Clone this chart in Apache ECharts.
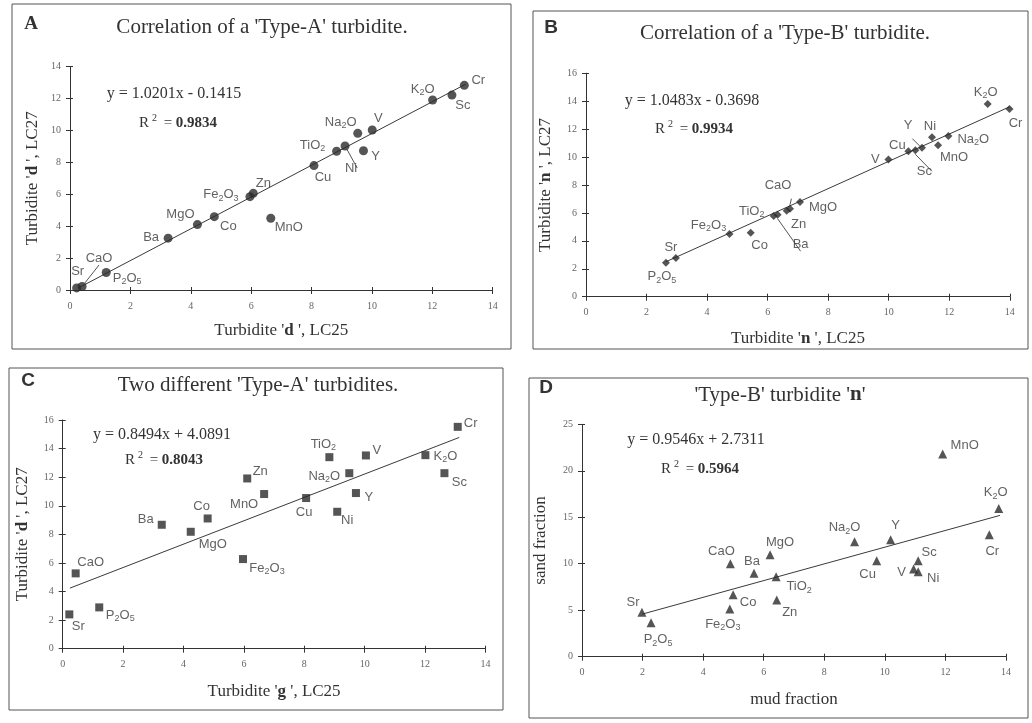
<!DOCTYPE html>
<html>
<head>
<meta charset="utf-8">
<script src="https://cdn.jsdelivr.net/npm/echarts@6/dist/echarts.min.js"></script>
<style>
html, body { margin: 0; padding: 0; background: #fff; }
#chart { width: 1032px; height: 723px; }
</style>
</head>
<body>
<div id="chart"></div>
<script>
// element order shared by all four panels
const elements = ["Sr", "CaO", "P2O5", "Ba", "MgO", "Co", "Fe2O3", "Zn", "MnO", "Cu", "TiO2", "Ni", "Na2O", "V", "Y", "K2O", "Sc", "Cr"];

// A: turbidite 'd', LC25 vs LC27
const xA = [0.22, 0.4, 1.2, 3.25, 4.22, 4.78, 5.96, 6.07, 6.65, 8.08, 8.83, 9.11, 9.53, 10.01, 9.72, 12.01, 12.65, 13.06];
const yA = [0.13, 0.22, 1.1, 3.25, 4.1, 4.6, 5.85, 6.06, 4.5, 7.8, 8.7, 9.03, 9.82, 10.03, 8.73, 11.91, 12.22, 12.83];
const trendXA = [0.3, 13.1];
const trendYA = [0.15, 12.9];

// B: turbidite 'n', LC25 vs LC27
const xB = [2.97, 6.74, 2.64, 6.33, 7.07, 5.44, 4.74, 6.63, 11.63, 10.65, 6.2, 11.43, 11.97, 9.99, 11.1, 13.27, 10.88, 13.99];
const yB = [2.77, 6.3, 2.43, 5.87, 6.78, 4.58, 4.49, 6.16, 10.84, 10.41, 5.78, 11.41, 11.5, 9.83, 10.67, 13.8, 10.48, 13.44];
const trendXB = [2.64, 14];
const trendYB = [2.5, 13.6];

// C: turbidite 'g' LC25 vs turbidite 'd' LC27
const xC = [0.22, 0.43, 1.21, 3.28, 4.24, 4.8, 5.97, 6.11, 6.67, 8.06, 8.83, 9.09, 9.49, 10.04, 9.71, 12.01, 12.64, 13.08];
const yC = [2.4, 5.27, 2.89, 8.67, 8.18, 9.11, 6.27, 11.91, 10.82, 10.54, 13.4, 9.58, 12.28, 13.52, 10.89, 13.54, 12.28, 15.52];
const trendXC = [0.24, 13.13];
const trendYC = [4.24, 14.78];

// D: turbidite 'n', mud vs sand fraction
const xD = [1.98, 4.9, 2.28, 5.68, 6.21, 4.99, 4.88, 6.43, 11.91, 9.73, 6.41, 11.1, 9.0, 10.95, 10.19, 13.76, 11.1, 13.45];
const yD = [4.77, 10.0, 3.66, 8.97, 10.98, 6.67, 5.13, 6.1, 21.81, 10.33, 8.61, 9.15, 12.37, 9.43, 12.59, 15.93, 10.33, 13.13];
const trendXD = [2.0, 13.8];
const trendYD = [4.59, 15.2];

// label placement (pixel offset of label centre from the marker)
const offA = { Sr: [1, -17], CaO: [17, -28], P2O5: [21, 6], Ba: [-17, -1], MgO: [-17, -10], Co: [14, 10], Fe2O3: [-29, -2], Zn: [10, -10], MnO: [18, 9], Cu: [9, 12], TiO2: [-24, -6], Ni: [6, 22], Na2O: [-17, -11], V: [6, -12], Y: [12, 6], K2O: [-10, -11], Sc: [11, 10], Cr: [14, -5] };
const offB = { P2O5: [-4, 14], Sr: [-5, -11], Fe2O3: [-21, -9], Co: [9, 13], TiO2: [-22, -5], Ba: [23, 30], Zn: [12, 14], CaO: [-12, -23], MgO: [23, 5], V: [-13, 0], Cu: [-11, -6], Sc: [9, 21], Y: [-14, -22], Ni: [-2, -11], MnO: [16, 12], Na2O: [25, 3], K2O: [-2, -12], Cr: [6, 14] };
const offC = { Sr: [9, 12], CaO: [15, -11], P2O5: [21, 8], Ba: [-16, -5], MgO: [22, 13], Co: [-6, -12], Fe2O3: [24, 9], Zn: [13, -7], MnO: [-20, 10], Cu: [-2, 14], TiO2: [-6, -13], Ni: [10, 9], Na2O: [-25, 3], Y: [13, 4], V: [11, -5], K2O: [20, 1], Sc: [15, 9], Cr: [13, -3] };
const offD = { Sr: [-9, -10], P2O5: [7, 17], Fe2O3: [-7, 15], CaO: [-9, -12], Co: [15, 8], Ba: [-2, -12], MgO: [10, -12], TiO2: [23, 10], Zn: [13, 12], Na2O: [-10, -14], Cu: [-9, 14], Y: [5, -14], V: [-12, 3], Ni: [15, 7], Sc: [11, -8], MnO: [22, -9], Cr: [3, 17], K2O: [-3, -16] };
const leadA = ["CaO", "Ni"];
const leadB = ["Ba", "CaO", "Sc", "Y"];

const serif = "Liberation Serif";
const sans = "Liberation Sans";
const ink = "#333";

function subText(name) {
  return name.replace(/(\d)/g, "{s|$1}");
}

function axisPair(dim, gridIndex, max, interval, name, nameGap) {
  const base = {
    type: "value",
    gridIndex: gridIndex,
    min: 0,
    max: max,
    interval: interval,
    position: dim === "x" ? "bottom" : "left",
    splitLine: { show: false },
    animation: false
  };
  const main = Object.assign({}, base, {
    axisLine: { show: true, onZero: false, lineStyle: { color: ink, width: 1 } },
    axisTick: { show: true, length: 4, lineStyle: { color: ink } },
    axisLabel: { color: "#666", fontFamily: serif, fontSize: 10, margin: dim === "x" ? 11 : 9 },
    name: name,
    nameLocation: "middle",
    nameGap: nameGap,
    nameTextStyle: {
      color: ink,
      fontFamily: serif,
      fontSize: 17,
      rich: { b: { fontFamily: serif, fontSize: 17, fontWeight: "bold", color: ink } }
    }
  });
  // second copy only to draw the inner half of the crossing ticks
  const inner = Object.assign({}, base, {
    axisLine: { show: false, onZero: false },
    axisTick: { show: true, inside: true, length: 3, lineStyle: { color: ink } },
    axisLabel: { show: false }
  });
  return [main, inner];
}

function scatterSeries(gridIndex, xs, ys, symbol, size, offs, leads) {
  const data = xs.map((x, i) => {
    const n = elements[i];
    return {
      name: n,
      value: [x, ys[i]],
      label: { offset: offs[n] || [0, 0] },
      labelLine: { show: leads.indexOf(n) >= 0, lineStyle: { color: "#555", width: 1 } }
    };
  });
  return {
    type: "scatter",
    xAxisIndex: gridIndex * 2,
    yAxisIndex: gridIndex * 2,
    symbol: symbol,
    symbolSize: size,
    itemStyle: { color: "#2b2b2b" },
    z: 3,
    label: {
      show: true,
      position: "inside",
      color: "#3a3a3a",
      fontFamily: sans,
      fontSize: 13,
      formatter: (p) => subText(p.name),
      rich: { s: { fontFamily: sans, fontSize: 9, color: "#3a3a3a", padding: [7, 0, 0, 0] } }
    },
    data: data
  };
}

function trendSeries(gridIndex, xs, ys) {
  return {
    type: "line",
    xAxisIndex: gridIndex * 2,
    yAxisIndex: gridIndex * 2,
    showSymbol: false,
    silent: true,
    z: 2,
    lineStyle: { color: "#3a3a3a", width: 1 },
    data: xs.map((x, i) => [x, ys[i]])
  };
}

function txt(x, y, text, font, size, extra) {
  return {
    type: "text",
    x: x,
    y: y,
    z: 10,
    style: Object.assign({
      text: text,
      fontFamily: font,
      fontSize: size,
      fill: ink,
      align: "center",
      verticalAlign: "middle"
    }, extra || {})
  };
}

function frame(x, y, w, h) {
  return {
    type: "rect",
    shape: { x: x, y: y, width: w, height: h },
    style: { fill: "none", stroke: "#555", lineWidth: 1 },
    z: 1
  };
}

const eqRich = {
  sup: { fontFamily: serif, fontSize: 10, fill: ink, padding: [0, 3, 9, 3] },
  b: { fontFamily: serif, fontSize: 15, fontWeight: "bold", fill: ink }
};

function setChart() {
  const ax = axisPair;
  const xAxis = [].concat(
    ax("x", 0, 14, 2, "Turbidite '{b|d} ', LC25", 32),
    ax("x", 1, 14, 2, "Turbidite '{b|n} ', LC25", 33),
    ax("x", 2, 14, 2, "Turbidite '{b|g} ', LC25", 34),
    ax("x", 3, 14, 2, "mud fraction", 34)
  );
  const yAxis = [].concat(
    ax("y", 0, 14, 2, "Turbidite '{b|d} ', LC27", 29),
    ax("y", 1, 16, 2, "Turbidite '{b|n} ', LC27", 32),
    ax("y", 2, 16, 2, "Turbidite '{b|d} ', LC27", 32),
    ax("y", 3, 25, 5, "sand fraction", 33)
  );
  xAxis.forEach((a, i) => { a.gridIndex = Math.floor(i / 2); });
  yAxis.forEach((a, i) => { a.gridIndex = Math.floor(i / 2); });

  const option = {
    backgroundColor: "#fff",
    animation: false,
    grid: [
      { left: 70, top: 66.7, width: 422.7, height: 223.3, outerBoundsMode: "none" },
      { left: 586, top: 73.2, width: 423.8, height: 223.5, outerBoundsMode: "none" },
      { left: 62.7, top: 420, width: 422.8, height: 228.7, outerBoundsMode: "none" },
      { left: 582, top: 424.3, width: 424, height: 232.4, outerBoundsMode: "none" }
    ],
    xAxis: xAxis,
    yAxis: yAxis,
    graphic: [
      frame(12, 4, 499, 345),
      frame(533, 11, 495, 338),
      frame(9, 368, 494, 342),
      frame(529, 378, 499, 340),
      // panel letters and titles
      txt(31, 24, "A", serif, 19, { fontWeight: "bold" }),
      txt(262, 27, "Correlation of a 'Type-A' turbidite.", serif, 21),
      txt(551, 28, "B", sans, 19, { fontWeight: "bold" }),
      txt(785, 33, "Correlation of a 'Type-B' turbidite.", serif, 21),
      txt(28, 381, "C", sans, 19, { fontWeight: "bold" }),
      txt(258, 385, "Two different 'Type-A' turbidites.", serif, 21),
      txt(546, 388, "D", sans, 19, { fontWeight: "bold" }),
      txt(780, 395, "'Type-B' turbidite '{b|n}'", serif, 21, {
        rich: { b: { fontFamily: serif, fontSize: 21, fontWeight: "bold", fill: ink } }
      }),
      // regression equations
      txt(174, 94, "y = 1.0201x - 0.1415", serif, 16),
      txt(178, 123, "R{sup|2} = {b|0.9834}", serif, 15, { rich: eqRich }),
      txt(692, 101, "y = 1.0483x - 0.3698", serif, 16),
      txt(694, 129, "R{sup|2} = {b|0.9934}", serif, 15, { rich: eqRich }),
      txt(162, 435, "y = 0.8494x + 4.0891", serif, 16),
      txt(164, 460, "R{sup|2} = {b|0.8043}", serif, 15, { rich: eqRich }),
      txt(696, 440, "y = 0.9546x + 2.7311", serif, 16),
      txt(700, 469, "R{sup|2} = {b|0.5964}", serif, 15, { rich: eqRich })
    ],
    series: [
      trendSeries(0, trendXA, trendYA),
      scatterSeries(0, xA, yA, "circle", 9, offA, leadA),
      trendSeries(1, trendXB, trendYB),
      scatterSeries(1, xB, yB, "diamond", 8, offB, leadB),
      trendSeries(2, trendXC, trendYC),
      scatterSeries(2, xC, yC, "rect", 8, offC, []),
      trendSeries(3, trendXD, trendYD),
      scatterSeries(3, xD, yD, "triangle", 9, offD, [])
    ]
  };

  const myChart = echarts.init(document.getElementById("chart"), null, { renderer: "canvas" });
  myChart.setOption(option);
}

setChart();
</script>
</body>
</html>
